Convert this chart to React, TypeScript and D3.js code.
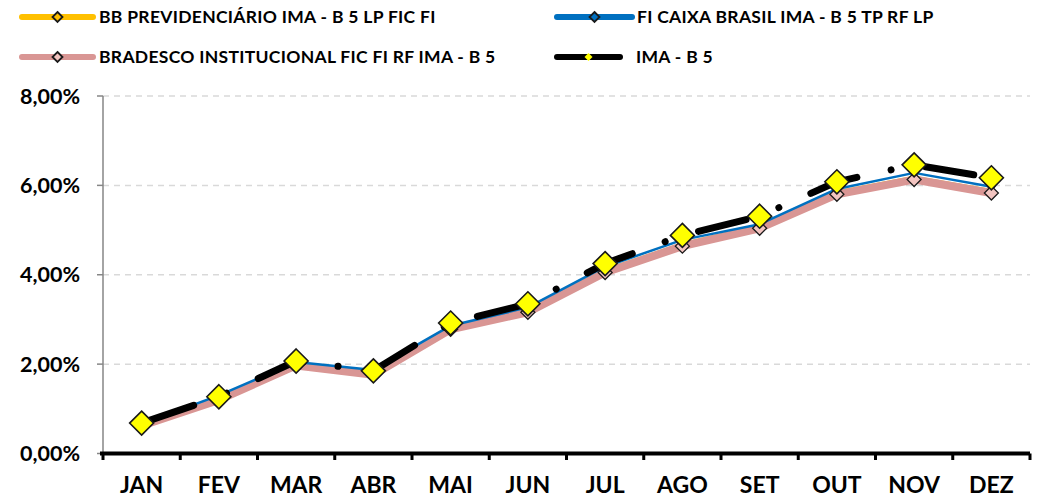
import React from 'react';
import * as d3 from 'd3';

// monthly accumulated returns (%)
const months = ['JAN', 'FEV', 'MAR', 'ABR', 'MAI', 'JUN', 'JUL', 'AGO', 'SET', 'OUT', 'NOV', 'DEZ'];
const bbPrev = [0.63, 1.22, 1.99, 1.78, 2.80, 3.18, 4.07, 4.66, 5.06, 5.82, 6.15, 5.85];
const caixa = [0.66, 1.30, 2.05, 1.87, 2.86, 3.27, 4.18, 4.78, 5.13, 5.92, 6.28, 5.97];
const bradesco = [0.62, 1.20, 1.97, 1.76, 2.78, 3.16, 4.05, 4.64, 5.04, 5.80, 6.13, 5.83];
const imaB5 = [0.68, 1.27, 2.07, 1.85, 2.92, 3.35, 4.25, 4.88, 5.31, 6.08, 6.46, 6.17];
const yTicks = [0, 2, 4, 6, 8];

const FONT = 'Lato, "Open Sans", sans-serif';

const diamond = (cx, cy, r) => `M${cx},${cy - r}L${cx + r},${cy}L${cx},${cy + r}L${cx - r},${cy}Z`;

const App = () => {
    const width = 1039, height = 499;
    const left = 103, right = 1030, top = 96, bottom = 453.5;

    const x = d3.scaleBand().domain(months).range([left, right]);
    const y = d3.scaleLinear().domain([0, 8]).range([bottom, top]);
    const cx = (m) => x(m) + x.bandwidth() / 2;

    const line = d3.line()
        .x((d, i) => cx(months[i]))
        .y((d) => y(d));

    const boundaries = months.map((m) => x(m)).concat([right]);

    const legend = [
        {label: 'BB PREVIDENCIÁRIO IMA - B 5 LP FIC FI', color: '#ffc000', fill: '#ffc000', x0: 22, x1: 93, tx: 99, y: 17},
        {label: 'FI CAIXA BRASIL IMA - B 5 TP RF LP', color: '#0070c0', fill: '#0070c0', x0: 557, x1: 632, tx: 637, y: 17},
        {label: 'BRADESCO INSTITUCIONAL FIC FI RF IMA - B 5', color: '#d99694', fill: '#f2c4c0', x0: 22, x1: 93, tx: 99, y: 57},
        {label: 'IMA - B 5', color: '#000000', fill: '#ffff00', x0: 557, x1: 620, tx: 636, y: 57},
    ];

    return (
        <svg width={width} height={height} style={{position: 'absolute', left: 0, top: 0, background: '#fff'}}
             fontFamily={FONT} fontWeight="bold">
            {/* gridlines */}
            {yTicks.filter((t) => t > 0).map((t) => (
                <line key={'g' + t} x1={left} x2={right} y1={y(t)} y2={y(t)}
                      stroke="#d9d9d9" strokeWidth={1.5} strokeDasharray="6,5" />
            ))}

            {/* y axis */}
            <line x1={left} x2={left} y1={top} y2={bottom} stroke="#868686" strokeWidth={1.5} />
            {yTicks.map((t) => (
                <g key={'y' + t}>
                    <line x1={97} x2={left} y1={y(t)} y2={y(t)} stroke="#868686" strokeWidth={1.5} />
                    <text x={80} y={y(t)} dy="0.36em" textAnchor="end" fontSize={21.5} fill="#000">
                        {t.toFixed(2).replace('.', ',') + '%'}
                    </text>
                </g>
            ))}

            {/* series */}
            <path d={line(bbPrev)} fill="none" stroke="#ffc000" strokeWidth={6} strokeLinejoin="round" />
            {bbPrev.map((v, i) => (
                <path key={'bbm' + i} d={diamond(cx(months[i]), y(v), 5)} fill="#ffc000" stroke="#1a1a1a" strokeWidth={1.2} />
            ))}
            <path d={line(bradesco)} fill="none" stroke="#d99694" strokeWidth={8} strokeLinejoin="round" />
            <path d={line(caixa)} fill="none" stroke="#0070c0" strokeWidth={2.5} strokeLinejoin="round" />
            {caixa.map((v, i) => (
                <path key={'cxm' + i} d={diamond(cx(months[i]), y(v), 4)} fill="#0070c0" stroke="#1a1a1a" strokeWidth={1} />
            ))}
            {bradesco.map((v, i) => (
                <path key={'brm' + i} d={diamond(cx(months[i]), y(v), 7)} fill="#f2c4c0" stroke="#1a1a1a" strokeWidth={1.3} />
            ))}
            <path d={line(imaB5)} fill="none" stroke="#000" strokeWidth={7} strokeLinecap="round"
                  strokeLinejoin="round" strokeDasharray="49,35,0.01,35" strokeDashoffset={-6} />
            {imaB5.map((v, i) => (
                <path key={'im' + i} d={diamond(cx(months[i]), y(v), 12)} fill="#ffff00" stroke="#1a1a1a" strokeWidth={1.6} />
            ))}

            {/* x axis */}
            <line x1={100} x2={right} y1={bottom} y2={bottom} stroke="#000" strokeWidth={4} />
            {boundaries.map((b, i) => (
                <rect key={'xt' + i} x={b - 1.5} y={bottom} width={3} height={6.5} fill="#000" />
            ))}
            {months.map((m) => (
                <text key={m} x={cx(m)} y={493} textAnchor="middle" fontSize={23} fill="#000">{m}</text>
            ))}

            {/* legend */}
            {legend.map((l) => (
                <g key={l.label}>
                    <line x1={l.x0} x2={l.x1} y1={l.y} y2={l.y} stroke={l.color} strokeWidth={6} strokeLinecap="round" />
                    <path d={diamond((l.x0 + l.x1) / 2, l.y, l.color === '#000000' ? 4 : 5)} fill={l.fill}
                          stroke={l.color === '#000000' ? 'none' : '#1a1a1a'} strokeWidth={1.8} />
                    <text x={l.tx} y={l.y} dy="0.36em" fontSize={17.5} letterSpacing={0.3} fill="#000">{l.label}</text>
                </g>
            ))}
        </svg>
    );
};

export default App;
